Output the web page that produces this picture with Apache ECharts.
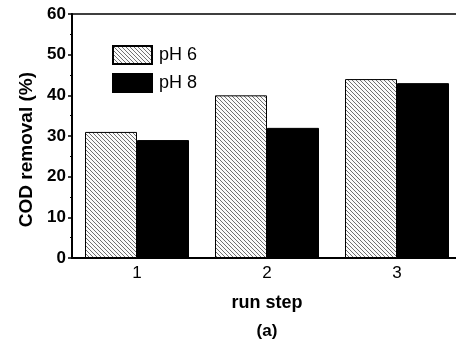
<!DOCTYPE html>
<html>
<head>
<meta charset="utf-8">
<script src="https://cdn.jsdelivr.net/npm/echarts@6/dist/echarts.min.js"></script>
<style>html,body{margin:0;padding:0;background:#fff}#c{width:456px;height:343px}</style>
</head>
<body>
<div id="c"></div>
<script>
var categories = ['1', '2', '3'];
var seriesNames = ['pH 6', 'pH 8'];
var ph6 = [31, 40, 44];
var ph8 = [29, 32, 43];
var yTicks = [0, 10, 20, 30, 40, 50, 60];

function hatch() {
  var c = document.createElement('canvas');
  c.width = 4; c.height = 4;
  var g = c.getContext('2d');
  g.fillStyle = '#fafafa';
  g.fillRect(0, 0, 4, 4);
  g.fillStyle = '#707070';
  for (var i = 0; i < 4; i++) { g.fillRect(i, i, 1, 1); }
  return c;
}
var pat = { image: hatch(), repeat: 'repeat' };
var font = 'Liberation Sans, Arial, sans-serif';

var chart = echarts.init(document.getElementById('c'), null, { renderer: 'canvas' });
chart.setOption({
  animation: false,
  grid: { left: 72, top: 14, width: 390, bottom: 85, show: true, borderColor: '#000', borderWidth: 1.5,
    containLabel: false, outerBoundsMode: 'none' },
  legend: {
    orient: 'vertical', left: 107, top: 40, itemWidth: 39, itemHeight: 18, itemGap: 8, icon: 'rect',
    textStyle: { fontFamily: font, fontSize: 18, color: '#000', padding: [0, 0, 0, 2] },
    data: seriesNames
  },
  xAxis: {
    type: 'category', data: categories,
    name: 'run step', nameLocation: 'middle', nameGap: 36,
    nameTextStyle: { fontFamily: font, fontSize: 18, fontWeight: 'bold', color: '#000' },
    axisLine: { lineStyle: { color: '#000', width: 2 } },
    axisTick: { length: 3, lineStyle: { color: '#000', width: 1.5 } },
    axisLabel: { fontFamily: font, fontSize: 17, color: '#000', margin: 7 }
  },
  yAxis: {
    type: 'value', min: 0, max: 60, interval: 10,
    axisLine: { show: true, lineStyle: { color: '#000', width: 2 } },
    axisTick: { show: true, length: 4, lineStyle: { color: '#000', width: 1.5 } },
    minorTick: { show: true, splitNumber: 2, length: 2, lineStyle: { color: '#000', width: 1 } },
    splitLine: { show: false },
    axisLabel: { fontFamily: font, fontSize: 17, fontWeight: 'bold', color: '#000', margin: 6,
      formatter: function (v) { return yTicks.indexOf(v) >= 0 ? String(v) : ''; } }
  },
  graphic: [
    { type: 'text', left: 17, top: 72, rotation: Math.PI / 2,
      style: { text: 'COD removal (%)', font: 'bold 19px ' + font, fill: '#000' } },
    { type: 'text', x: 267, y: 331,
      style: { text: '(a)', font: 'bold 17px ' + font, fill: '#000', align: 'center', verticalAlign: 'middle' } }
  ],
  series: [
    { name: seriesNames[0], type: 'bar', data: ph6, barWidth: 52, barGap: '0%',
      itemStyle: { color: pat, borderColor: '#000', borderWidth: 1 } },
    { name: seriesNames[1], type: 'bar', data: ph8, barWidth: 52, barGap: '0%',
      itemStyle: { color: '#000', borderColor: '#000', borderWidth: 1 } }
  ]
});
</script>
</body>
</html>
